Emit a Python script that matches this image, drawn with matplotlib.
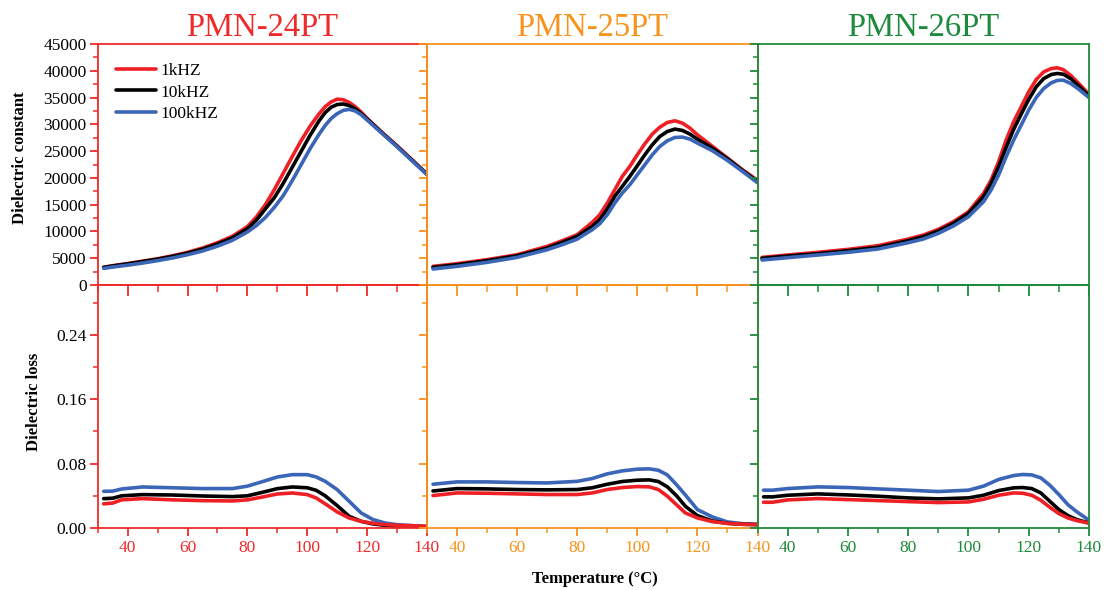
import matplotlib
matplotlib.use("Agg")
import matplotlib.pyplot as plt
from matplotlib.ticker import MultipleLocator

plt.rcParams['font.family'] = ['Liberation Serif', 'DejaVu Serif']

# sample names and panel colours
samples = ["PMN-24PT", "PMN-25PT", "PMN-26PT"]
panel_colors = ["#ee2b2b", "#f7941d", "#1e8a3c"]
freq_labels = ["1kHZ", "10kHZ", "100kHZ"]
freq_colors = ["#ee2026", "#000000", "#3b66b8"]

# dielectric constant vs temperature
T_eps_24 = [32, 35, 40, 45, 50, 55, 60, 65, 70, 75, 80, 83, 86, 89, 92, 95, 98, 101,
            104, 106, 108, 110, 112, 114, 116, 118, 120, 125, 130, 135, 140]
eps_24_1k = [3300, 3600, 4000, 4450, 4900, 5450, 6100, 6900, 7900, 9100, 10900, 12700, 15000,
             17800, 20900, 24000, 27000, 29700, 32000, 33300, 34200, 34700, 34600, 34100,
             33300, 32300, 31100, 28500, 26000, 23400, 20700]
eps_24_10k = [3300, 3550, 3950, 4380, 4820, 5350, 5950, 6700, 7650, 8800, 10500, 12100, 14200,
              16300, 19000, 22000, 25000, 28000, 30700, 32200, 33200, 33700, 33800, 33500,
              32900, 32000, 31000, 28400, 25900, 23300, 20700]
eps_24_100k = [3100, 3350, 3700, 4100, 4550, 5050, 5650, 6350, 7250, 8350, 9900, 11100, 12600,
               14500, 16700, 19500, 22500, 25500, 28200, 29800, 31100, 32000, 32600, 32800,
               32500, 31800, 30800, 28300, 25800, 23200, 20600]

T_eps_25 = [32, 40, 50, 60, 70, 75, 80, 85, 87.5, 90, 92.5, 95, 97.5, 100, 102.5, 105,
            107.5, 110, 112.5, 115, 117.5, 120, 125, 130, 135, 140]
eps_25_1k = [3480, 3980, 4730, 5660, 7220, 8270, 9390, 11700, 13120, 15300, 17790, 20280,
             22140, 24320, 26370, 28180, 29480, 30350, 30660, 30230, 29300, 28050, 25880,
             23700, 21520, 19550]
eps_25_10k = [3300, 3790, 4540, 5470, 6900, 7960, 9080, 10950, 12190, 14180, 16550, 18410,
              20280, 22270, 24320, 26190, 27740, 28670, 29110, 28860, 28180, 27240, 25560,
              23570, 21400, 19300]
eps_25_100k = [2990, 3480, 4230, 5160, 6590, 7530, 8580, 10330, 11440, 13120, 15300, 17170,
               18720, 20590, 22450, 24320, 25880, 26930, 27550, 27620, 27240, 26500, 25070,
               23260, 21210, 19100]

T_eps_26 = [31.5, 40, 50, 60, 70, 80, 85, 90, 95, 100, 105, 107.5, 110, 112.5, 115, 117.5,
            120, 122.5, 125, 127.5, 129.5, 131.5, 134, 136.5, 140]
eps_26_1k = [5160, 5600, 6100, 6650, 7340, 8580, 9330, 10390, 11820, 13680, 17100, 19600,
             23000, 27060, 30480, 33280, 36080, 38380, 39800, 40430, 40550, 40200, 39100,
             37700, 35600]
eps_26_10k = [4980, 5410, 5850, 6400, 7030, 8270, 9020, 10080, 11500, 13370, 16480, 18970,
              22080, 25690, 29050, 31900, 34650, 37010, 38560, 39310, 39500, 39350, 38500,
              37200, 35300]
eps_26_100k = [4670, 5100, 5600, 6100, 6720, 7900, 8580, 9640, 11010, 12750, 15550, 17730,
               20530, 23950, 27060, 29860, 32660, 35020, 36700, 37760, 38200, 38250, 37600,
               36600, 35000]

# dielectric loss vs temperature
T_loss_24 = [32, 35, 38, 45, 55, 65, 75, 80, 85, 90, 95, 100, 103, 106, 110, 114,
             118, 122, 126, 130, 135, 140]
loss_24_1k = [0.030, 0.031, 0.035, 0.0365, 0.035, 0.034, 0.0336, 0.035, 0.0385, 0.0423, 0.0435,
              0.0415, 0.0373, 0.030, 0.020, 0.0124, 0.0083, 0.0058, 0.0042, 0.0033, 0.0028, 0.0022]
loss_24_10k = [0.0365, 0.037, 0.040, 0.0415, 0.041, 0.0398, 0.039, 0.040, 0.0443, 0.0489, 0.051,
               0.050, 0.0468, 0.040, 0.0278, 0.0145, 0.0083, 0.005, 0.0033, 0.0021, 0.0015, 0.0013]
loss_24_100k = [0.0456, 0.0458, 0.0485, 0.051, 0.050, 0.049, 0.049, 0.052, 0.0576, 0.0634, 0.0663,
                0.0663, 0.0634, 0.058, 0.0477, 0.0332, 0.0187, 0.0104, 0.0062, 0.0041, 0.0029, 0.0021]

T_loss_25 = [32, 40, 50, 60, 70, 80, 85, 90, 95, 100, 104, 107, 110, 113, 116,
             120, 125, 130, 135, 140]
loss_25_1k = [0.0403, 0.0436, 0.0432, 0.0424, 0.0416, 0.0416, 0.0436, 0.0478, 0.0503, 0.0515,
              0.0511, 0.0478, 0.0395, 0.0291, 0.0187, 0.0125, 0.0079, 0.0058, 0.0047, 0.0042]
loss_25_10k = [0.046, 0.049, 0.0486, 0.0478, 0.0474, 0.0478, 0.050, 0.0544, 0.0578, 0.0594,
               0.0598, 0.0578, 0.0511, 0.0403, 0.027, 0.0154, 0.0087, 0.0058, 0.0046, 0.0042]
loss_25_100k = [0.0544, 0.0573, 0.0573, 0.0565, 0.056, 0.058, 0.0615, 0.0673, 0.071, 0.0731,
                0.0735, 0.0718, 0.066, 0.054, 0.041, 0.0229, 0.0137, 0.0075, 0.0054, 0.0046]

T_loss_26 = [32, 35, 40, 50, 60, 70, 80, 90, 100, 105, 110, 115, 118, 121, 124,
             127, 130, 133, 136, 140]
loss_26_1k = [0.032, 0.032, 0.0349, 0.0366, 0.0353, 0.0341, 0.0328, 0.0316, 0.0324, 0.0357,
              0.0407, 0.0436, 0.0432, 0.0407, 0.0345, 0.0258, 0.0179, 0.0125, 0.0091, 0.0062]
loss_26_10k = [0.0387, 0.0387, 0.0407, 0.0424, 0.0411, 0.0395, 0.0374, 0.0362, 0.0374, 0.0407,
               0.0465, 0.0499, 0.0503, 0.049, 0.0436, 0.0332, 0.0229, 0.0154, 0.0104, 0.0062]
loss_26_100k = [0.047, 0.047, 0.049, 0.0511, 0.0503, 0.0486, 0.047, 0.0453, 0.047, 0.052,
                0.0603, 0.0652, 0.0665, 0.066, 0.0623, 0.0532, 0.0416, 0.029, 0.020, 0.0096]

eps_data = [
    (T_eps_24, [eps_24_1k, eps_24_10k, eps_24_100k]),
    (T_eps_25, [eps_25_1k, eps_25_10k, eps_25_100k]),
    (T_eps_26, [eps_26_1k, eps_26_10k, eps_26_100k]),
]
loss_data = [
    (T_loss_24, [loss_24_1k, loss_24_10k, loss_24_100k]),
    (T_loss_25, [loss_25_1k, loss_25_10k, loss_25_100k]),
    (T_loss_26, [loss_26_1k, loss_26_10k, loss_26_100k]),
]

W, H = 1106, 590
fig = plt.figure(figsize=(W / 100, H / 100), dpi=100)

lefts = [97.7, 427.0, 757.5]
rights = [427.0, 757.5, 1089.0]
row_top = (44, 285)
row_bot = (285, 528)


def add_axes(x0, x1, y0, y1):
    ax = fig.add_axes([x0 / W, 1 - y1 / H, (x1 - x0) / W, (y1 - y0) / H])
    ax.patch.set_visible(False)
    return ax


def style_axes(ax, color, show_ylabels, show_xlabels, xtick_len):
    for sp in ax.spines.values():
        sp.set_color(color)
        sp.set_linewidth(1.3)
    ax.xaxis.set_major_locator(MultipleLocator(20))
    ax.xaxis.set_minor_locator(MultipleLocator(10))
    ax.tick_params(axis='both', which='both', direction='out', color=color, labelsize=12.5)
    ax.tick_params(axis='y', which='major', length=6, width=1.3, labelcolor='black', pad=2)
    ax.tick_params(axis='y', which='minor', length=3.5, width=1.1)
    ax.tick_params(axis='x', which='major', length=xtick_len, width=1.3,
                   labelcolor=color, pad=3)
    ax.tick_params(axis='x', which='minor', length=xtick_len * 0.6, width=1.1)
    if not show_ylabels:
        ax.tick_params(axis='y', labelleft=False)
    if not show_xlabels:
        ax.tick_params(axis='x', labelbottom=False)


for i in range(3):
    color = panel_colors[i]

    # upper row: dielectric constant
    ax = add_axes(lefts[i], rights[i], *row_top)
    T, series = eps_data[i]
    for vals, c, lab in zip(series, freq_colors, freq_labels):
        ax.plot(T, vals, color=c, lw=2.6, label=lab, solid_capstyle='round')
    ax.set_xlim(30, 140)
    ax.set_ylim(0, 45000)
    ax.yaxis.set_major_locator(MultipleLocator(5000))
    ax.yaxis.set_minor_locator(MultipleLocator(2500))
    style_axes(ax, color, i == 0, False, 8)
    ax.set_title(samples[i], color=color, fontsize=23.5, pad=6)
    if i == 0:
        ax.set_ylabel("Dielectric constant", fontsize=12, fontweight='bold')
        ax.yaxis.set_label_coords(-0.211, 0.53)
        ax.legend(loc='upper left', bbox_to_anchor=(0.035, 0.95), frameon=False,
                  fontsize=12.5, handlelength=2.3, handletextpad=0.25,
                  labelspacing=0.3, borderaxespad=0)

    # lower row: dielectric loss
    ax2 = add_axes(lefts[i], rights[i], *row_bot)
    T, series = loss_data[i]
    for vals, c in zip(series[::-1], freq_colors[::-1]):
        ax2.plot(T, vals, color=c, lw=2.6, solid_capstyle='round')
    ax2.set_xlim(30, 140)
    ax2.set_ylim(0, 0.302)
    ax2.set_yticks([0.0, 0.08, 0.16, 0.24])
    ax2.set_yticklabels(["0.00", "0.08", "0.16", "0.24"])
    ax2.yaxis.set_minor_locator(MultipleLocator(0.04))
    style_axes(ax2, color, i == 0, True, 5.5)
    if i == 0:
        ax2.set_ylabel("Dielectric loss", fontsize=12, fontweight='bold')
        ax2.yaxis.set_label_coords(-0.168, 0.52)

fig.text(595 / W, 1 - 579 / H, "Temperature (°C)", ha='center', va='center',
         fontsize=12, fontweight='bold')

fig.savefig("out.png", dpi=100)
